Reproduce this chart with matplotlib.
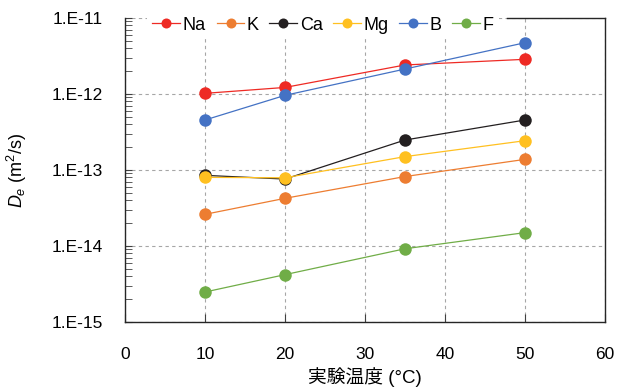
import numpy as np
import matplotlib
matplotlib.use("Agg")
import matplotlib.pyplot as plt
from matplotlib.ticker import FixedLocator, FuncFormatter, NullFormatter, MultipleLocator

temps = [10, 20, 35, 50]
series_names = ["Na", "K", "Ca", "Mg", "B", "F"]
na = [1.02e-12, 1.22e-12, 2.41e-12, 2.86e-12]
k = [2.61e-14, 4.24e-14, 8.2e-14, 1.38e-13]
ca = [8.5e-14, 7.6e-14, 2.48e-13, 4.55e-13]
mg = [8.0e-14, 7.9e-14, 1.5e-13, 2.43e-13]
b = [4.55e-13, 9.6e-13, 2.13e-12, 4.73e-12]
f = [2.48e-15, 4.2e-15, 9.2e-15, 1.50e-14]
colors = ["#EE2A24", "#ED7D31", "#231F20", "#FFC020", "#4472C4", "#70AD47"]
y_major = [1e-15, 1e-14, 1e-13, 1e-12, 1e-11]
xlabel = "実験温度 (°C)"

plt.rcParams['font.family'] = ['Liberation Sans', 'Noto Sans CJK JP', 'DejaVu Sans']
plt.rcParams['mathtext.fontset'] = 'custom'
plt.rcParams['mathtext.it'] = 'Liberation Sans:italic'
plt.rcParams['mathtext.rm'] = 'Liberation Sans'

fig = plt.figure(figsize=(6.17, 3.90), dpi=100)
ax = fig.add_axes([125/617, 1-322/390, 480/617, 304/390])

for name, vals, c in zip(series_names, [na, k, ca, mg, b, f], colors):
    ax.plot(temps, vals, '-o', color=c, lw=0.9, markersize=9, markeredgewidth=0,
            label=name, zorder=3)

ax.set_yscale('log')
ax.set_xlim(0, 60)
ax.set_ylim(1e-15, 1e-11)
ax.xaxis.set_major_locator(MultipleLocator(10))
ax.yaxis.set_major_locator(FixedLocator(y_major))
minor = [m * d for d in y_major[:-1] for m in range(2, 10)]
ax.yaxis.set_minor_locator(FixedLocator(minor))
ax.yaxis.set_minor_formatter(NullFormatter())
ax.yaxis.set_major_formatter(FuncFormatter(lambda v, p: f"1.E{int(round(np.log10(v)))}"))

ax.tick_params(axis='both', which='both', direction='in', labelsize=12.5, color='#404040')
ax.tick_params(axis='y', which='major', length=5, width=0.8, pad=16)
ax.tick_params(axis='y', which='minor', length=5, width=0.6)
ax.tick_params(axis='x', which='major', length=6, width=0.8, pad=18)

ax.grid(True, which='major', color='#A6A6A6', linestyle=(0, (3, 3)), linewidth=0.8)
ax.set_axisbelow(True)

for s in ax.spines.values():
    s.set_color('#262626')
    s.set_linewidth(1.0)
ax.spines['top'].set_bounds(47.7, 60)

ax.set_xlabel(xlabel, fontsize=13.5, labelpad=4)
ax.set_ylabel(r"$D_e$ (m$^2$/s)", fontsize=13)
ax.yaxis.set_label_coords((29 - 125) / 480, 0.5)

leg = ax.legend(loc='center', bbox_to_anchor=(323/617, 1-25/390), bbox_transform=fig.transFigure,
                ncol=6, frameon=True, fontsize=13, handlelength=1.55, handletextpad=0.12,
                columnspacing=0.6, borderpad=0.3, markerscale=0.8, fancybox=False)
leg.get_frame().set_facecolor('white')
leg.get_frame().set_edgecolor('none')
leg.get_frame().set_alpha(1)

fig.savefig("out.png", dpi=100)
